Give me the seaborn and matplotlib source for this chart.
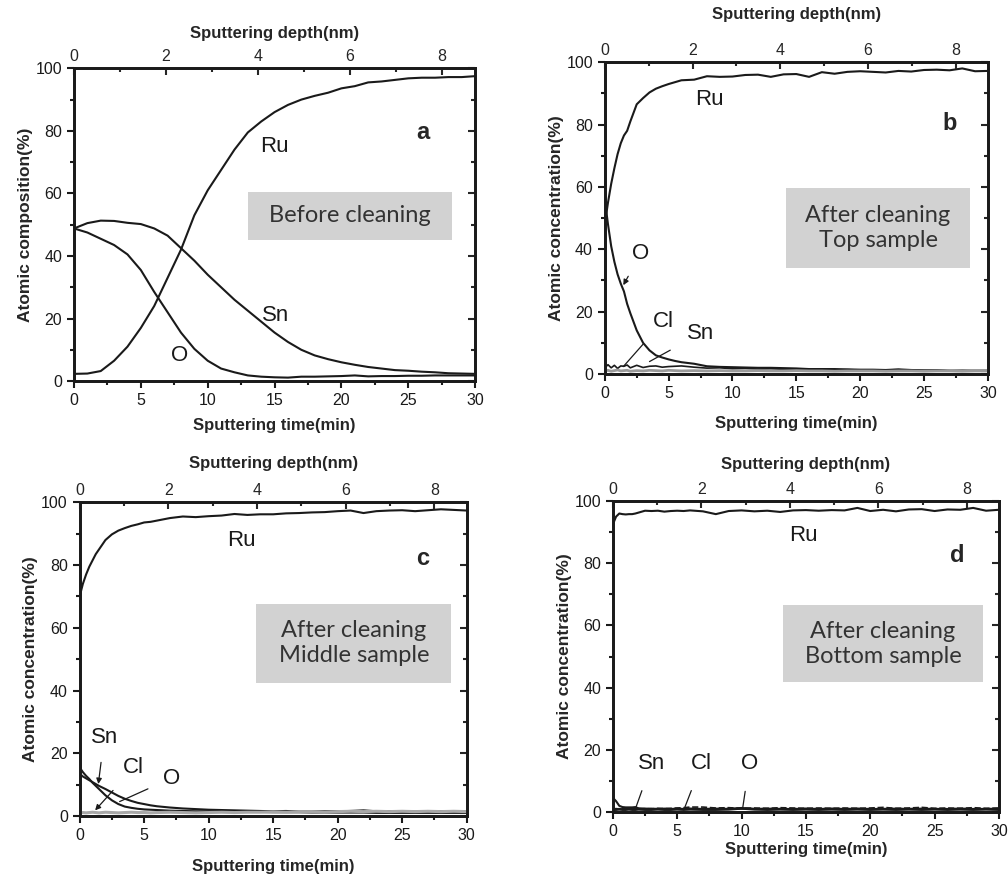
import seaborn as sns
import matplotlib.pyplot as plt
from matplotlib.patches import Rectangle
from matplotlib.ticker import MultipleLocator

# ---- data (time in min, concentration in %) ----
t_a = [0, 1, 2, 3, 4, 5, 6, 7, 8, 9, 10, 11, 12, 13, 14, 15, 16, 17, 18, 19, 20,
       21, 22, 23, 24, 25, 26, 27, 28, 29, 30]
a_ru = [2.3, 2.4, 3.2, 6.5, 11, 17, 24, 33, 42, 53, 61, 67.5, 74, 79.5, 83, 86, 88.3,
        90, 91.2, 92.2, 93.6, 94.3, 95.5, 95.8, 96.3, 96.8, 97, 97, 97.2, 97.2, 97.5]
a_sn = [48.8, 50.5, 51.3, 51.2, 50.6, 50.2, 48.8, 46.5, 42.5, 38.5, 34, 30, 26, 22.5,
        19, 15.5, 12.5, 10, 8.2, 7, 6, 5.2, 4.5, 4, 3.5, 3.3, 3, 2.8, 2.5, 2.4, 2.3]
a_o = [48.8, 47.5, 45.5, 43.5, 40.5, 35.5, 28.5, 22, 15.5, 10.3, 6.5, 4, 2.8, 1.8, 1.4,
       1.2, 1.1, 1.4, 1.4, 1.5, 1.6, 1.8, 1.5, 1.6, 1.6, 1.7, 1.7, 1.8, 1.8, 1.8, 1.8]

t_f = [0, 0.25, 0.5, 0.75, 1, 1.25, 1.5, 1.75, 2, 2.5, 3, 3.5, 4, 4.5, 5, 5.5, 6, 7, 8,
       9, 10, 11, 12, 13, 14, 15, 16, 17, 18, 19, 20, 21, 22, 23, 24, 25, 26, 27, 28, 29, 30]

b_ru = [48, 55, 61, 66, 70.5, 74, 76.5, 78, 81, 86.5, 88.5, 90.3, 91.5, 92.3, 93, 93.6,
        94.2, 94.4, 95.5, 95.3, 95.4, 95.9, 96, 95.3, 96.1, 96.2, 95.3, 96.8, 96.3, 96.9,
        97.1, 96.9, 96.7, 97.2, 97, 97.5, 97.6, 97.4, 98, 97.1, 97.2]
b_o = [56, 48, 41, 36, 32, 29, 26.5, 22.5, 19.5, 14, 10, 7.6, 6, 5.3, 4.7, 4.2, 3.8, 3.3,
       2.5, 2.3, 2.2, 2.1, 2, 2, 1.9, 1.8, 1.6, 1.6, 1.6, 1.5, 1.4, 1.4, 1.3, 1.5, 1.3,
       1.2, 1.2, 1.1, 1.1, 1.1, 1.1]
b_cl = [2, 3, 2, 2.8, 1.8, 2.6, 2.5, 2.9, 2, 2.8, 2.1, 2.5, 2.6, 2.2, 2.4, 2.5, 2.6, 2.2,
        1.9, 2, 1.7, 1.8, 1.6, 1.7, 1.5, 1.5, 1.4, 1.5, 1.3, 1.4, 1.3, 1.2, 1.3, 1.4, 1.2,
        1.1, 1.2, 1.0, 1.1, 1.0, 1.0]
b_sn = [1.0, 1.2, 0.9, 1.1, 1.3, 1.0, 1.1, 1.2, 0.9, 1.1, 1.0, 1.2, 1.1, 1.0, 1.2, 1.1,
        1.0, 1.1, 1.0, 1.1, 1.0, 1.0, 1.1, 1.0, 1.0, 1.1, 1.0, 1.0, 0.9, 1.0, 1.0, 1.0,
        0.9, 1.0, 1.0, 0.9, 1.0, 1.0, 0.9, 1.0, 1.0]

c_ru = [70, 74, 77, 79.5, 81.5, 83.5, 85, 86.5, 88, 89.8, 91, 91.8, 92.5, 93, 93.6, 93.8,
        94.2, 95, 95.5, 95.3, 95.6, 95.8, 96.3, 96, 96.2, 96.2, 96.5, 96.6, 96.8, 96.9,
        97.2, 97.4, 96.6, 97.2, 97.4, 97.5, 97.2, 97.5, 97.8, 97.6, 97.4]
c_sn = [15.5, 14, 12.8, 11.8, 10.6, 9.6, 8.6, 7.6, 6.6, 5, 3.8, 3, 2.6, 2.3, 2.1, 2, 1.9,
        1.7, 1.6, 1.5, 1.5, 1.4, 1.4, 1.3, 1.3, 1.2, 1.2, 1.2, 1.1, 1.1, 1.1, 1.1, 1.1,
        1.0, 1.0, 1.0, 1.0, 1.0, 1.0, 1.0, 1.0]
c_o = [13.5, 12.6, 12, 11.4, 10.8, 10.2, 9.6, 9.1, 8.6, 7.5, 6.4, 5.5, 4.8, 4.2, 3.8, 3.4,
       3.1, 2.7, 2.4, 2.2, 2.0, 1.9, 1.8, 1.7, 1.6, 1.5, 1.6, 1.4, 1.4, 1.5, 1.5, 1.6, 1.8,
       1.5, 1.5, 1.4, 1.4, 1.4, 1.5, 1.4, 1.4]
c_cl = [1.0, 1.1, 1.0, 1.1, 1.2, 1.1, 1.0, 1.1, 1.2, 1.1, 1.0, 1.1, 1.2, 1.1, 1.1, 1.0,
        1.1, 1.2, 1.1, 1.0, 1.1, 1.2, 1.1, 1.2, 1.2, 1.3, 1.2, 1.3, 1.3, 1.2, 1.4, 1.5,
        1.4, 1.5, 1.4, 1.5, 1.4, 1.5, 1.4, 1.5, 1.4]

d_ru = [92.5, 95, 96, 95.8, 95.7, 95.8, 95.8, 96, 96.3, 96.9, 96.8, 96.9, 96.6, 96.8,
        96.9, 96.8, 97, 96.7, 95.8, 96.8, 97, 96.7, 96.9, 96.5, 97, 97.1, 96.9, 97.1, 97,
        97.8, 96.8, 97.2, 96.7, 97.3, 97.4, 96.8, 97.3, 97.2, 97.8, 96.9, 97.2]
d_sn = [4.6, 3.5, 2, 1.6, 1.5, 1.5, 1.5, 1.6, 1.2, 1.1, 1.1, 1.0, 1.1, 1.0, 1.1, 1.0, 1.1,
        1.0, 1.1, 1.0, 1.1, 1.0, 1.1, 1.0, 1.0, 1.1, 1.0, 1.1, 1.0, 1.1, 1.0, 1.0, 1.1,
        1.0, 1.1, 1.0, 1.0, 1.1, 1.0, 1.0, 1.1]
d_cl = [1.0, 1.1, 1.0, 1.1, 1.0, 1.1, 1.0, 1.1, 1.0, 1.1, 1.0, 1.2, 1.1, 1.2, 1.3, 1.4,
        1.6, 1.6, 1.3, 1.4, 1.2, 1.3, 1.2, 1.4, 1.3, 1.2, 1.3, 1.2, 1.3, 1.2, 1.3, 1.5,
        1.2, 1.3, 1.5, 1.2, 1.3, 1.2, 1.4, 1.2, 1.3]
d_o = [0.8, 0.8, 0.9, 0.8, 0.8, 0.9, 0.8, 0.8, 0.9, 0.8, 0.8, 0.9, 0.8, 0.8, 0.9, 0.8,
       0.9, 0.8, 0.8, 0.9, 1.2, 0.9, 0.8, 0.9, 0.8, 0.9, 0.8, 0.9, 0.8, 0.9, 0.8, 0.9,
       0.8, 0.9, 0.8, 0.9, 0.8, 0.9, 0.8, 0.9, 0.8]

depth_per_min = 8 / 27.5  # nm per minute, from the top axis

sns.set_theme(style='ticks')
plt.rcParams['font.family'] = ['Liberation Sans', 'DejaVu Sans']

fig = plt.figure(figsize=(10.08, 8.76), dpi=100)


def setup_axes(ax, ylabel, xpad, toppad, ypad=2):
    ax.set_xlim(0, 30)
    ax.set_ylim(0, 100)
    ax.xaxis.set_major_locator(MultipleLocator(5))
    ax.xaxis.set_minor_locator(MultipleLocator(2.5))
    ax.yaxis.set_major_locator(MultipleLocator(20))
    ax.yaxis.set_minor_locator(MultipleLocator(10))
    ax.tick_params(which='both', direction='out', width=1.5, colors='k',
                   labelsize=11.5, top=False, right=False)
    ax.tick_params(which='major', length=5)
    ax.tick_params(which='minor', length=3)
    for s in ax.spines.values():
        s.set_linewidth(1.8)
        s.set_color('k')
    ax.set_xlabel('Sputtering time(min)', fontsize=12, fontweight='bold', labelpad=xpad)
    ax.set_ylabel(ylabel, fontsize=12.5, fontweight='bold', labelpad=ypad)

    axr = ax.twinx()
    axr.set_ylim(0, 100)
    axr.yaxis.set_major_locator(MultipleLocator(20))
    axr.yaxis.set_minor_locator(MultipleLocator(10))
    axr.tick_params(which='both', direction='in', width=1.5, labelright=False)
    axr.tick_params(which='major', length=5)
    axr.tick_params(which='minor', length=3)

    axt = ax.twiny()
    axt.set_xlim(0, 30 * depth_per_min)
    axt.xaxis.set_major_locator(MultipleLocator(2))
    axt.xaxis.set_minor_locator(MultipleLocator(1))
    axt.tick_params(which='both', direction='in', width=1.5, labelsize=11.5, pad=3)
    axt.tick_params(which='major', length=5)
    axt.tick_params(which='minor', length=3)
    axt.set_xlabel('Sputtering depth(nm)', fontsize=12, fontweight='bold', labelpad=toppad)
    for a in (axr, axt):
        for s in a.spines.values():
            s.set_linewidth(1.8)
            s.set_color('k')


def info_box(ax, x0, y0, x1, y1, text):
    ax.add_patch(Rectangle((x0, y0), x1 - x0, y1 - y0, facecolor='#d2d2d2',
                           edgecolor='none', zorder=1))
    ax.text((x0 + x1) / 2, (y0 + y1) / 2, text, ha='center', va='center',
            fontsize=17, color='#333333', family='Lato', linespacing=1.25, zorder=2)


def curve(ax, t, y, color='k', lw=1.5, ls='-'):
    sns.lineplot(x=t, y=y, ax=ax, color=color, lw=lw, ls=ls, estimator=None, zorder=3)


lab = dict(fontsize=16, color='k', zorder=4)
thin = dict(arrowstyle='-', lw=0.9, color='k')
head = dict(arrowstyle='-|>', lw=0.9, color='k', mutation_scale=8)

# ---- panel a ----
ax = fig.add_axes([0.0734, 0.565, 0.398, 0.357])
curve(ax, t_a, a_ru)
curve(ax, t_a, a_sn)
curve(ax, t_a, a_o)
setup_axes(ax, 'Atomic composition(%)', 7, 8)
info_box(ax, 13.0, 45.2, 28.3, 60.5, 'Before cleaning')
ax.text(15.0, 75, 'Ru', ha='center', va='center', **lab)
ax.text(15.1, 21, 'Sn', ha='center', va='center', **lab)
ax.text(7.9, 8.2, 'O', ha='center', va='center', **lab)
ax.text(26.1, 79.5, 'a', ha='center', va='center', fontsize=17, fontweight='bold')

# ---- panel b ----
ax = fig.add_axes([0.600, 0.573, 0.380, 0.356])
curve(ax, t_f, b_ru)
curve(ax, t_f, b_o)
curve(ax, t_f, b_cl, lw=1.2)
curve(ax, t_f, b_sn, color='#9a9a9a', lw=2.0)
setup_axes(ax, 'Atomic concentration(%)', 11, 17)
info_box(ax, 14.2, 33.9, 28.6, 59.6, 'After cleaning\nTop sample')
ax.text(8.2, 88, 'Ru', ha='center', va='center', **lab)
ax.text(27.0, 80.5, 'b', ha='center', va='center', fontsize=17, fontweight='bold')
ax.annotate('O', xy=(1.45, 28.5), xytext=(2.8, 38.5), ha='center', va='center',
            arrowprops=dict(head, shrinkA=7, shrinkB=0), **lab)
ax.annotate('Cl', xy=(1.45, 2.4), xytext=(4.6, 17), ha='center', va='center',
            arrowprops=dict(thin, shrinkA=9, shrinkB=0), **lab)
ax.annotate('Sn', xy=(3.5, 4.0), xytext=(7.5, 13), ha='center', va='center',
            arrowprops=dict(thin, shrinkA=11, shrinkB=0), **lab)

# ---- panel c ----
ax = fig.add_axes([0.079, 0.0685, 0.384, 0.358])
curve(ax, t_f, c_ru)
curve(ax, t_f, c_sn)
curve(ax, t_f, c_o)
curve(ax, t_f, c_cl, color='#a8a8a8', lw=2.2)
setup_axes(ax, 'Atomic concentration(%)', 12, 11)
info_box(ax, 13.7, 42.5, 28.8, 67.6, 'After cleaning\nMiddle sample')
ax.text(12.5, 88, 'Ru', ha='center', va='center', **lab)
ax.text(26.6, 82, 'c', ha='center', va='center', fontsize=17, fontweight='bold')
ax.annotate('Sn', xy=(1.45, 10.2), xytext=(1.9, 25), ha='center', va='center',
            arrowprops=dict(head, shrinkA=8, shrinkB=0), **lab)
ax.annotate('Cl', xy=(1.2, 1.8), xytext=(4.2, 15.5), ha='center', va='center',
            arrowprops=dict(head, shrinkA=9, shrinkB=0), **lab)
ax.annotate('O', xy=(3.1, 4.6), xytext=(7.1, 12), ha='center', va='center',
            arrowprops=dict(thin, shrinkA=9, shrinkB=0), **lab)

# ---- panel d ----
ax = fig.add_axes([0.608, 0.073, 0.383, 0.355])
curve(ax, t_f, d_ru)
curve(ax, t_f, d_sn)
curve(ax, t_f, d_cl, lw=1.2, ls='--')
curve(ax, t_f, d_o, lw=2.0)
setup_axes(ax, 'Atomic concentration(%)', 2, 9)
info_box(ax, 13.2, 41.8, 28.8, 66.5, 'After cleaning\nBottom sample')
ax.text(14.8, 89, 'Ru', ha='center', va='center', **lab)
ax.text(26.8, 82.5, 'd', ha='center', va='center', fontsize=17, fontweight='bold')
ax.annotate('Sn', xy=(1.8, 1.6), xytext=(3.0, 15.5), ha='center', va='center',
            arrowprops=dict(thin, shrinkA=10, shrinkB=0), **lab)
ax.annotate('Cl', xy=(5.6, 1.6), xytext=(6.9, 15.5), ha='center', va='center',
            arrowprops=dict(thin, shrinkA=10, shrinkB=0), **lab)
ax.annotate('O', xy=(10.1, 1.6), xytext=(10.6, 15.5), ha='center', va='center',
            arrowprops=dict(thin, shrinkA=10, shrinkB=0), **lab)

fig.savefig('out.png', dpi=100)
